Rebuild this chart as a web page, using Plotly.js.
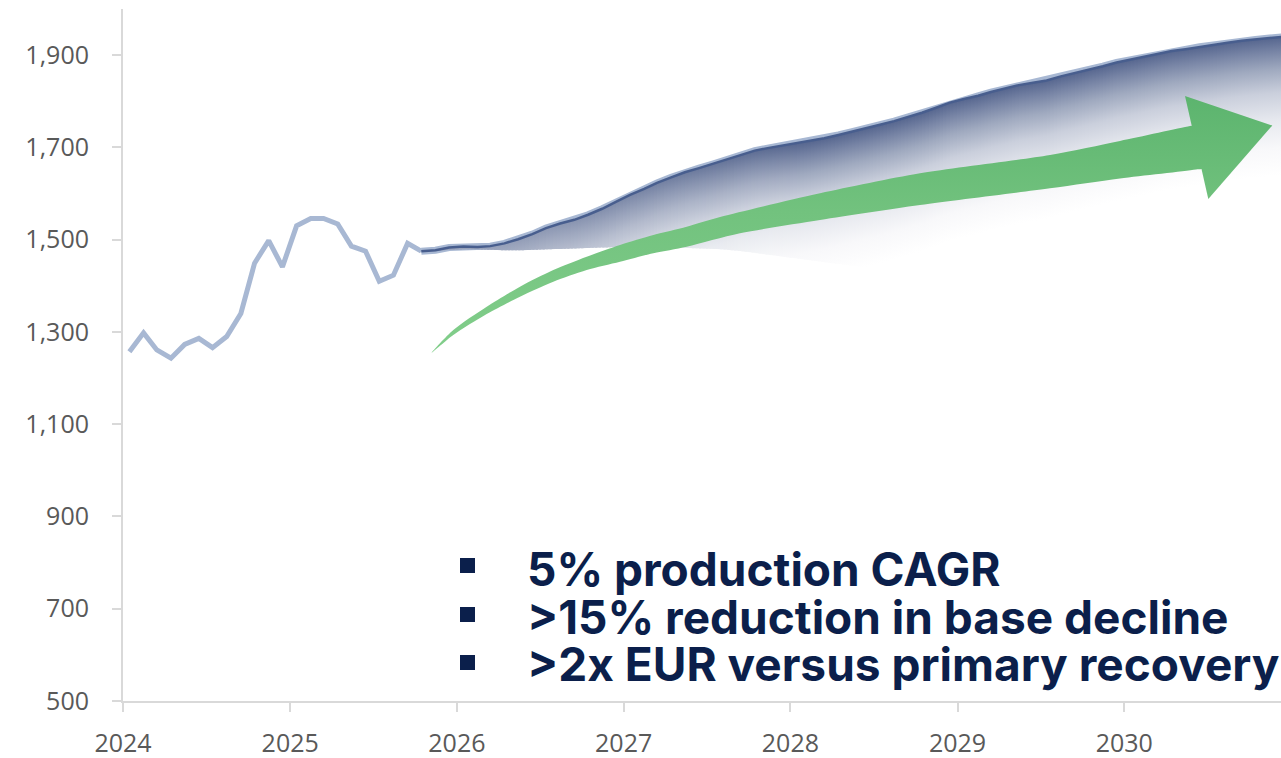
<!DOCTYPE html>
<html>
<head>
<meta charset="utf-8">
<script src="https://cdn.plot.ly/plotly-3.0.1.min.js"></script>
<style>html,body{margin:0;padding:0;background:#fff;}#chart{width:1281px;height:758px;}</style>
</head>
<body>
<div id="chart"></div>
<script>
// ---------- data ----------
const histDates = ['2024-01-15','2024-02-15','2024-03-15','2024-04-15','2024-05-15','2024-06-15','2024-07-15','2024-08-15','2024-09-15','2024-10-15','2024-11-15','2024-12-15',
  '2025-01-15','2025-02-15','2025-03-15','2025-04-15','2025-05-15','2025-06-15','2025-07-15','2025-08-15','2025-09-15','2025-10-15'];
const histValues = [1257,1298,1261,1243,1273,1286,1266,1290,1340,1449,1498,1441,
  1530,1546,1546,1534,1486,1475,1410,1423,1492,1475];

const fcDates = ['2025-10-15','2025-11-15','2025-12-15',
  '2026-01-15','2026-02-15','2026-03-15','2026-04-15','2026-05-15','2026-06-15','2026-07-15','2026-08-15','2026-09-15','2026-10-15','2026-11-15','2026-12-15',
  '2027-01-15','2027-02-15','2027-03-15','2027-04-15','2027-05-15','2027-06-15','2027-07-15','2027-08-15','2027-09-15','2027-10-15','2027-11-15','2027-12-15',
  '2028-01-15','2028-02-15','2028-03-15','2028-04-15','2028-05-15','2028-06-15','2028-07-15','2028-08-15','2028-09-15','2028-10-15','2028-11-15','2028-12-15',
  '2029-01-15','2029-02-15','2029-03-15','2029-04-15','2029-05-15','2029-06-15','2029-07-15','2029-08-15','2029-09-15','2029-10-15','2029-11-15','2029-12-15',
  '2030-01-15','2030-02-15','2030-03-15','2030-04-15','2030-05-15','2030-06-15','2030-07-15','2030-08-15','2030-09-15','2030-10-15','2030-11-15','2030-12-15'];
const fcHigh = [1475,1477,1483,
  1485,1484,1486,1492,1501,1512,1525,1535,1543,1554,1567,1582,
  1597,1610,1623,1635,1646,1655,1664,1674,1684,1693,1699,1704,
  1709,1714,1720,1727,1734,1741,1749,1757,1766,1775,1786,1797,
  1805,1812,1820,1827,1835,1840,1845,1854,1861,1869,1876,1884,
  1890,1897,1903,1909,1913,1918,1922,1927,1931,1934,1937,1940];
const fcLow = [1475,1476,1478,
  1479,1479,1478,1477,1477,1478,1479,1480,1481,1482,1483,1484,
  1484,1484,1483,1483,1482,1481,1480,1478,1475,1471,1467,1463,
  1459,1455,1451,1447,1443,1440,1437,1434,1431,1428,1425,1422,
  1420,1418,1416,1414,1412,1410,1408,1406,1404,1402,1400,1398,
  1396,1394,1392,1390,1388,1386,1384,1382,1380,1378,1376,1374];

const yTicks = [500,700,900,1100,1300,1500,1700,1900];
const xTickVals = ['2024-01-01','2025-01-01','2026-01-01','2027-01-01','2028-01-01','2029-01-01','2030-01-01'];
const xTickText = ['2024','2025','2026','2027','2028','2029','2030'];

const bullets = ['5% production CAGR','>15% reduction in base decline','>2x EUR versus primary recovery'];

// ---------- decoration geometry (reference pixel space, overlay axes) ----------
const shaftX = [431.7,453.3,486.7,520,553.3,586.7,620,653.3,686.7,720,820,920,1050,1120,1190,1198,1206,1196,1120,1050,920,820,740,686.7,653.3,620,586.7,553.3,520,486.7,453.3,431.7];
const shaftY = [352.7,330,306.7,286.7,270,256.7,245,235,226.7,217,193.3,173.3,155,141,126.1,124.5,167.5,169.5,178.5,188.3,205,220,233.3,246.7,253.3,261.7,270,281.7,296.7,314,335,352.7];
const headX = [1185,1272.3,1208.3,1185];
const headY = [96,125.5,199,96];
const bulletX = 460, bulletSize = 15, textX = 525;
const bulletCY = [565.5, 614.5, 662.5];
const textCY = [569, 617, 664];

// ---------- styles ----------
const NAVY = [67,85,130];
const FADE = 300;
const SUB = 4;
function fanColor(a){
  const c = NAVY.map(v => Math.round(255 - a*(255 - v)));
  return 'rgb(' + c.join(',') + ')';
}
const fanStops = [[0,0],[0.2,0.04],[0.4,0.13],[0.6,0.29],[0.77,0.52],[0.9,0.74],[1,0.92]];
function fanScale(topAlpha){
  return fanStops.map(([p,a]) => [p, fanColor(a * topAlpha / 0.92)]);
}
const ms = d => new Date(d + 'T00:00:00Z').getTime();
const iso = t => new Date(t).toISOString().slice(0,19).replace('T',' ');
const arrowGrad = {type:'vertical', start:352, stop:96, colorscale:[[0,'rgb(130,206,139)'],[0.55,'rgb(114,194,126)'],[1,'rgb(92,180,110)']]};

const traces = [];
traces.push({x: histDates, y: histValues, mode:'lines', line:{color:'rgb(168,184,211)', width:5}, hoverinfo:'skip'});
traces.push({x: fcDates, y: fcHigh, mode:'lines', line:{color:'rgb(168,184,211)', width:7}, hoverinfo:'skip'});
// gradient fan between the two forecast series, drawn in thin slices so the shade follows the upper line
for (let i = 0; i < fcDates.length - 1; i++) {
  const t0 = ms(fcDates[i]), t1 = ms(fcDates[i+1]);
  for (let s = 0; s < SUB; s++) {
    const a = s / SUB, b = (s + 1) / SUB;
    const xa = t0 + (t1 - t0) * a, xb = t0 + (t1 - t0) * b;
    const ha = fcHigh[i] + (fcHigh[i+1] - fcHigh[i]) * a, hb = fcHigh[i] + (fcHigh[i+1] - fcHigh[i]) * b;
    const la = fcLow[i] + (fcLow[i+1] - fcLow[i]) * a, lb = fcLow[i] + (fcLow[i+1] - fcLow[i]) * b;
    const xe = iso(xb + 5 * 86400000);
    const top = (ha + hb) / 2;
    const spread = top - (la + lb) / 2;
    const topAlpha = 0.55 + 0.35 * Math.min(1, spread / 250);
    traces.push({
      x: [iso(xa), xe, xe, iso(xa)], y: [ha, hb, lb, la],
      mode:'none', fill:'toself', hoverinfo:'skip',
      fillgradient:{type:'vertical', start: top - FADE, stop: top, colorscale: fanScale(topAlpha)}
    });
  }
}
traces.push({x: fcDates, y: fcHigh, mode:'lines', line:{color:'rgb(72,94,142)', width:2.5}, hoverinfo:'skip'});
traces.push({x: shaftX, y: shaftY, xaxis:'x2', yaxis:'y2', mode:'lines', line:{width:0, shape:'spline', smoothing:0.8, color:'rgba(0,0,0,0)'},
  fill:'toself', hoverinfo:'skip', fillgradient: arrowGrad});
traces.push({x: headX, y: headY, xaxis:'x2', yaxis:'y2', mode:'none', fill:'toself', hoverinfo:'skip', fillgradient: arrowGrad});

const tickFont = {family:'"Open Sans", sans-serif', size:25, color:'#595959'};
const layout = {
  width:1281, height:758,
  margin:{l:123, r:0, t:9, b:57},
  paper_bgcolor:'#ffffff', plot_bgcolor:'#ffffff',
  showlegend:false, hovermode:false,
  xaxis:{type:'date', range:['2024-01-01','2030-12-10'], tickvals:xTickVals, ticktext:xTickText,
    showgrid:false, zeroline:false, showline:true, linecolor:'#d9d9d9', linewidth:2,
    ticks:'outside', ticklen:9, tickwidth:2, tickcolor:'#d9d9d9', tickfont:tickFont, ticklabelstandoff:10, fixedrange:true},
  yaxis:{range:[500,2000], tickvals:yTicks, tickformat:',', showgrid:false, zeroline:false,
    showline:true, linecolor:'#d9d9d9', linewidth:2, ticks:'outside', ticklen:9, tickwidth:2, tickcolor:'#d9d9d9',
    tickfont:tickFont, ticklabelstandoff:18, fixedrange:true},
  xaxis2:{overlaying:'x', anchor:'y2', range:[123,1281], visible:false, fixedrange:true},
  yaxis2:{overlaying:'y', anchor:'x2', range:[701,9], visible:false, fixedrange:true},
  shapes: bulletCY.map(cy => ({type:'rect', xref:'x2', yref:'y2', x0:bulletX, x1:bulletX+bulletSize,
    y0:cy-bulletSize/2, y1:cy+bulletSize/2, fillcolor:'#0b1f4b', line:{width:0}})),
  annotations: bullets.map((t,i) => ({text:t, xref:'x2', yref:'y2', x:textX, y:textCY[i], xanchor:'left', yanchor:'middle',
    showarrow:false, font:{family:'Inter, "Open Sans", sans-serif', size:46, color:'#0b1f4b', weight:700}}))
};
Plotly.newPlot('chart', traces, layout, {displayModeBar:false, staticPlot:true});
</script>
</body>
</html>
